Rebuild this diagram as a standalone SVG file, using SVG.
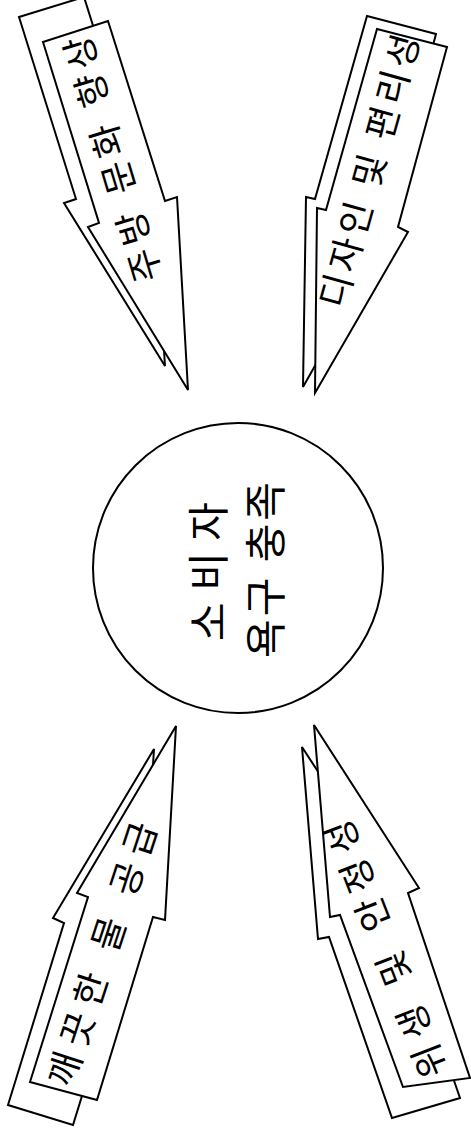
<svg xmlns="http://www.w3.org/2000/svg" width="471" height="1137" viewBox="0 0 471 1137">
<style>
.sh{fill:#fff;stroke:#000;stroke-width:2;stroke-linejoin:miter}
.t{font-family:'Noto Sans CJK KR','Noto Sans',sans-serif;fill:#000;text-anchor:middle;dominant-baseline:central}
.at{font-size:36px}
.ct{font-size:42px}
</style>
<rect width="471" height="1137" fill="#fff"/>
<g id="arrow-kitchen">
<polygon class="sh" points="19,17 84,-3 141,178 153,174 165,366 64,203 76,199"/>
<polygon class="sh" points="43,42 108,21 165,201 177,197 188,390 88,227 99,223"/>
<text class="t at" transform="translate(110,160) rotate(-106.7)" textLength="255" lengthAdjust="spacing">주방 문화 향상</text>
</g>
<g id="arrow-design">
<polygon class="sh" points="367,16 436,34 388,214 398,219 303,387 306,197 315,199"/>
<polygon class="sh" points="377,29 447,47 398,227 408,232 315,393 317,208 326,210"/>
<text class="t at" transform="translate(366.5,170) rotate(-74.4)" textLength="282" lengthAdjust="spacing">디자인 및 편리성</text>
</g>
<g id="center">
<circle cx="238" cy="568" r="145" fill="#fff" stroke="#000" stroke-width="2"/>
<text class="t ct" transform="translate(205,571.5) rotate(-90)" textLength="139" lengthAdjust="spacing">소비자</text>
<text class="t ct" transform="translate(262,570) rotate(-90)" textLength="176" lengthAdjust="spacing">욕구 충족</text>
</g>
<g id="arrow-water">
<polygon class="sh" points="154,749 142,944 130,941 73,1125 8,1105 64,923 53,918"/>
<polygon class="sh" points="176,726 165,920 153,917 97,1100 30,1082 88,897 77,893"/>
<text class="t at" transform="translate(99.5,953) rotate(-71.9)" textLength="275" lengthAdjust="spacing">깨끗한 물 공급</text>
</g>
<g id="arrow-hygiene">
<polygon class="sh" points="302,747 408,910 397,915 460,1098 392,1118 329,937 318,939"/>
<polygon class="sh" points="314,725 419,888 408,893 470,1078 403,1087 340,915 330,917"/>
<text class="t at" transform="translate(383.5,950) rotate(-111.2)" textLength="273" lengthAdjust="spacing">위생 및 안정성</text>
</g>
</svg>
